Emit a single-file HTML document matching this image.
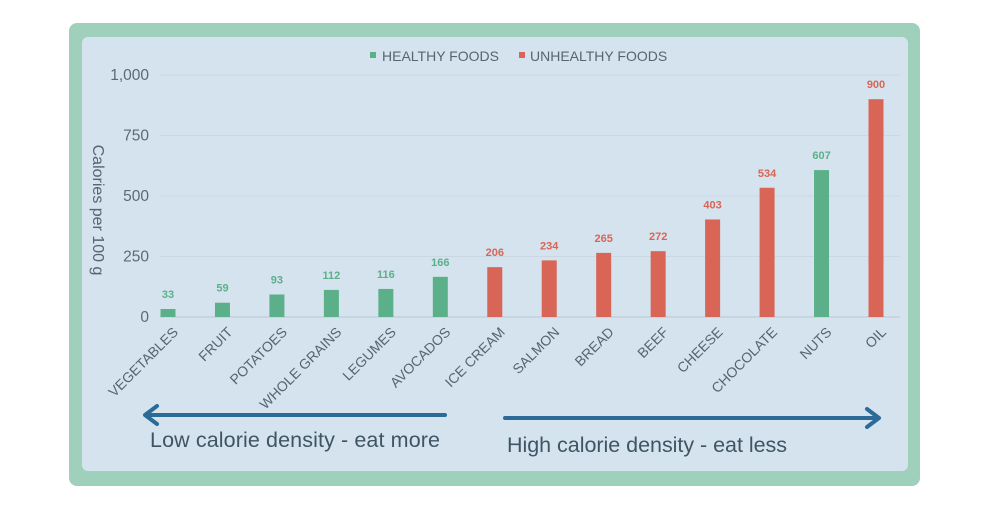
<!DOCTYPE html>
<html><head><meta charset="utf-8"><style>
body{margin:0;background:#fff;}
svg{display:block;font-family:"Liberation Sans",sans-serif;}
</style></head><body>
<svg width="1000" height="511" viewBox="0 0 1000 511">
<rect x="69" y="23" width="851" height="463" rx="8" fill="#9ed0bb"/>
<rect x="82" y="37" width="826" height="434" rx="6" fill="#d5e3ee"/>
<g id="grid"></g><g id="bars"></g><g id="xlabels"></g>
<g>
<rect x="370" y="52" width="6" height="6" fill="#5bb08a"/>
<text x="382" y="61" font-size="14" fill="#56656e">HEALTHY FOODS</text>
<rect x="519" y="52" width="6" height="6" fill="#d96556"/>
<text x="530" y="61" font-size="14" fill="#56656e">UNHEALTHY FOODS</text>
</g>
<text transform="translate(93,210) rotate(90)" text-anchor="middle" font-size="16" fill="#56656e">Calories per 100 g</text>
<g>
<line x1="148" y1="415" x2="445" y2="415" stroke="#2c6a98" stroke-width="4" stroke-linecap="round"/>
<polyline points="157,406 145,415 157,424" fill="none" stroke="#2c6a98" stroke-width="4" stroke-linecap="round" stroke-linejoin="round"/>
</g>
<text x="150" y="447" font-size="21.5" fill="#3f5563" textLength="290">Low calorie density - eat more</text>
<g>
<line x1="505" y1="418" x2="878" y2="418" stroke="#2c6a98" stroke-width="4" stroke-linecap="round"/>
<polyline points="867,409 879,418 867,427" fill="none" stroke="#2c6a98" stroke-width="4" stroke-linecap="round" stroke-linejoin="round"/>
</g>
<text x="507" y="452" font-size="21.5" fill="#3f5563" textLength="280">High calorie density - eat less</text>
</svg>
<script>
const categories=["VEGETABLES","FRUIT","POTATOES","WHOLE GRAINS","LEGUMES","AVOCADOS","ICE CREAM","SALMON","BREAD","BEEF","CHEESE","CHOCOLATE","NUTS","OIL"];
const values=[33,59,93,112,116,166,206,234,265,272,403,534,607,900];
const healthy=[true,true,true,true,true,true,false,false,false,false,false,false,true,false];
const yTicks=[0,250,500,750,1000];
const yTickLabels=["0","250","500","750","1,000"];
const NS="http://www.w3.org/2000/svg";
const y0=317,y1=75,xl=160,xr=900;
function y(v){return y0-(v/1000)*(y0-y1);}
function x(i){return 168+i*(876-168)/(categories.length-1);}
function mk(t,a,p){const e=document.createElementNS(NS,t);for(const k in a)e.setAttribute(k,a[k]);p.appendChild(e);return e;}
const grid=document.getElementById('grid'),bars=document.getElementById('bars'),xlab=document.getElementById('xlabels');
yTicks.forEach((t,i)=>{
 const l=mk('line',{x1:xl,x2:xr,y1:y(t),y2:y(t),stroke:i==0?'#b9c7d1':'#c9d8e3','stroke-width':1},grid);
 
 
 const tx=mk('text',{x:149,y:y(t)+5,'text-anchor':'end','font-size':15.5,fill:'#5a6b75'},grid);
 tx.textContent=yTickLabels[i];
 
 
});
categories.forEach((c,i)=>{
 const col=healthy[i]?'#5bb08a':'#d96556';
 const b=mk('rect',{x:x(i)-7.5,y:y(values[i]),width:15,height:y0-y(values[i]),fill:col},bars);
 
 
 const v=mk('text',{x:x(i),y:y(values[i])-11,'text-anchor':'middle','font-size':11,'font-weight':'bold',fill:col},bars);
 v.textContent=values[i];
 
 
 const t=mk('text',{transform:'translate('+(x(i)+11)+',333) rotate(-45)','text-anchor':'end','font-size':14,fill:'#56656e'},xlab);
 t.textContent=c;
 
 
});
</script>
</body></html>
